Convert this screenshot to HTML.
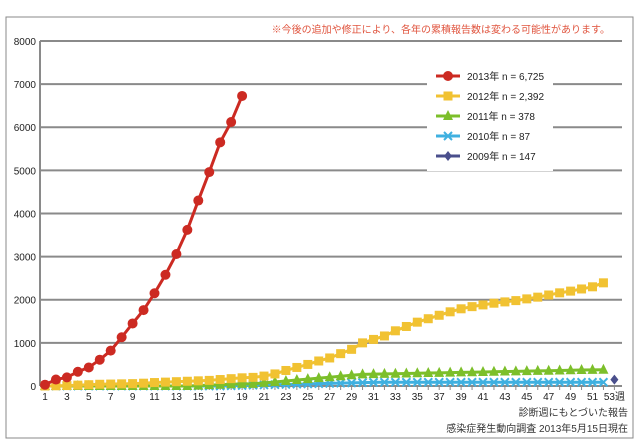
<!DOCTYPE html>
<html><head><meta charset="utf-8"><style>
html,body{margin:0;padding:0;background:#fff;width:640px;height:448px;overflow:hidden}
svg{display:block}
text{font-family:"Liberation Sans","Noto Sans CJK JP",sans-serif}
</style></head><body>
<svg id="s" width="640" height="448" xmlns="http://www.w3.org/2000/svg">
<rect x="6" y="17" width="627" height="421" fill="#fff" stroke="#888" stroke-width="1"/>
<text x="610" y="33" font-size="10" fill="#e0553f" text-anchor="end">※今後の追加や修正により、各年の累積報告数は変わる可能性があります。</text>
<g id="grid"></g>
<g id="series"></g>
<rect x="427" y="65" width="126" height="106" fill="#fff"/>
<g id="legend"></g>
<text x="628" y="416" font-size="10" fill="#333" text-anchor="end">診断週にもとづいた報告</text>
<text x="628" y="432" font-size="10" fill="#333" text-anchor="end">感染症発生動向調査 2013年5月15日現在</text>
</svg>
<script>
const NS="http://www.w3.org/2000/svg";
function el(p,t,a,txt){const e=document.createElementNS(NS,t);for(const k in a)e.setAttribute(k,a[k]);if(txt!==undefined)e.textContent=txt;document.getElementById(p).appendChild(e);return e;}
const X=w=>45+(w-1)*10.95, Y=v=>386-v*0.04313;
for(let i=0;i<=8;i++){const y=Y(i*1000);
 el("grid","line",{x1:40,x2:622,y1:y,y2:y,stroke:"#8a8a8a","stroke-width":2});
 el("grid","text",{x:36,y:y+4,"font-size":10,"text-anchor":"end",fill:"#222"},String(i*1000));}
el("grid","line",{x1:40,x2:40,y1:Y(8000),y2:386,stroke:"#8a8a8a","stroke-width":2});
for(let w=1;w<=53;w++){el("grid","line",{x1:X(w),x2:X(w),y1:386,y2:390,stroke:"#888"});
 if(w%2==1)el("grid","text",{x:X(w),y:400,"font-size":10,"text-anchor":"middle",fill:"#222"},w==53?"53週":String(w));}
const d13=[30,150,200,330,430,610,820,1130,1450,1760,2150,2580,3060,3620,4300,4960,5650,6120,6725];
const d12=[0,5,10,20,30,40,45,50,55,65,80,90,100,110,120,130,150,170,190,200,230,280,360,430,500,580,650,750,850,1000,1080,1160,1280,1380,1480,1560,1640,1720,1790,1840,1880,1920,1950,1980,2020,2060,2110,2160,2200,2250,2300,2392];
const d11=[];for(let w=1;w<=52;w++){d11.push(w<15?0:w<20?(w-14)*10:w<30?50+(w-20)*22:Math.min(378,270+(w-30)*5));}
const d10=[];for(let w=1;w<=52;w++){d10.push(w<18?0:Math.min(87,(w-17)*6));}
function series(data,color,shape,start){
 const pts=data.map((v,i)=>[X(i+start),Y(v)]);
 el("series","polyline",{points:pts.map(p=>p.join(",")).join(" "),fill:"none",stroke:color,"stroke-width":3});
 pts.forEach(p=>marker(p,color,shape,"series"));}
function marker(p,color,shape,g){const [x,y]=p;
 if(shape=="c")el(g,"circle",{cx:x,cy:y,r:5,fill:color});
 else if(shape=="s")el(g,"rect",{x:x-4.5,y:y-4.5,width:9,height:9,fill:color});
 else if(shape=="t")el(g,"polygon",{points:`${x},${y-6} ${x+5},${y+4} ${x-5},${y+4}`,fill:color});
 else if(shape=="x")el(g,"path",{d:`M${x-4},${y-4}L${x+4},${y+4}M${x-4},${y+4}L${x+4},${y-4}`,stroke:color,"stroke-width":2});
 else el(g,"polygon",{points:`${x},${y-5} ${x+4},${y} ${x},${y+5} ${x-4},${y}`,fill:color});}
series(d10,"#3fb0e0","x",1);
series(d11,"#7cbf2a","t",1);
series(d12,"#f1c232","s",1);
series([147],"#4a4f8c","d",53);
series(d13,"#cc2a22","c",1);
const L=[["2013年 n = 6,725","#cc2a22","c"],["2012年 n = 2,392","#f1c232","s"],["2011年 n = 378","#7cbf2a","t"],["2010年 n = 87","#3fb0e0","x"],["2009年 n = 147","#4a4f8c","d"]];
L.forEach((l,i)=>{const y=76+i*20;
 el("legend","line",{x1:436,x2:460,y1:y,y2:y,stroke:l[1],"stroke-width":3});
 marker([448,y],l[1],l[2],"legend");
 el("legend","text",{x:467,y:y+4,"font-size":10,fill:"#222"},l[0]);});
</script>
</body></html>
